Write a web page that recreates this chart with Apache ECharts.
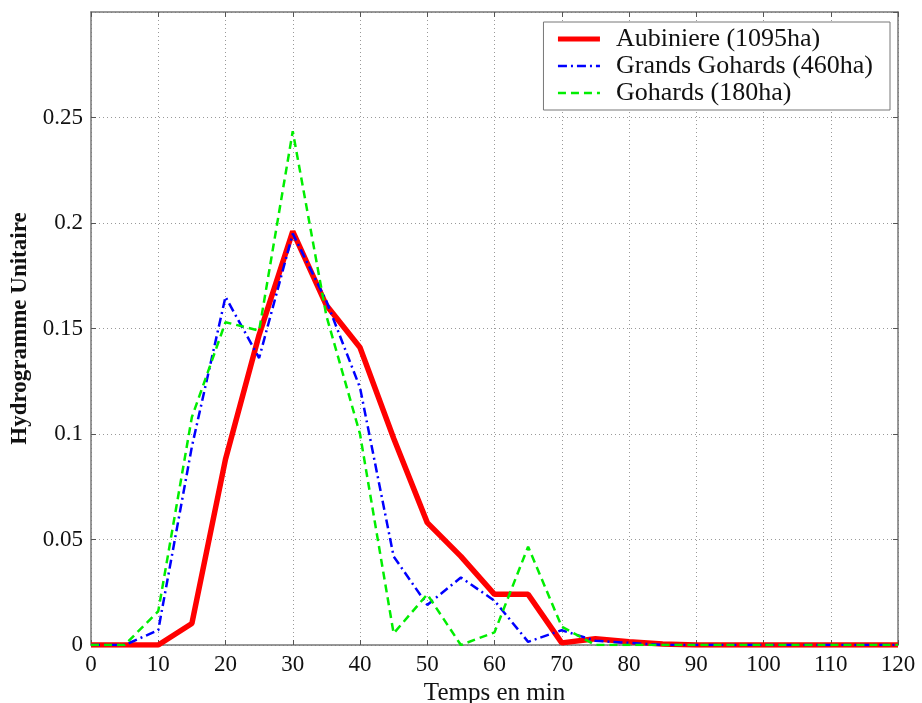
<!DOCTYPE html>
<html>
<head>
<meta charset="utf-8">
<script src="https://cdn.jsdelivr.net/npm/echarts@6/dist/echarts.min.js"></script>
<style>html,body{margin:0;padding:0;background:#fff}#c{width:922px;height:703px}</style>
</head>
<body>
<div id="c"></div>
<script>
const times = [0,5,10,15,20,25,30,35,40,45,50,55,60,65,70,75,80,85,90,95,100,105,110,115,120];
const aubiniere = [0,0,0,0.0102,0.088,0.147,0.196,0.161,0.141,0.098,0.058,0.042,0.024,0.024,0.001,0.003,0.0015,0.0005,0,0,0,0,0,0,0];
const grandsGohards = [0,0,0.007,0.094,0.165,0.136,0.195,0.163,0.122,0.042,0.019,0.032,0.021,0.0015,0.007,0.002,0.001,0,0,0,0,0,0,0,0];
const gohards = [0,0,0.016,0.108,0.153,0.149,0.2435,0.156,0.100,0.0055,0.024,0,0.006,0.0466,0.0087,0,0,0,0,0,0,0,0,0,0];
const seriesNames = ['Aubiniere (1095ha)','Grands Gohards (460ha)','Gohards (180ha)'];
const xTicks = [0,10,20,30,40,50,60,70,80,90,100,110,120];
const yTicks = [0,0.05,0.1,0.15,0.2,0.25];

const pair = arr => times.map((t,i)=>[t,arr[i]]);
const font = '"Liberation Serif", "Times New Roman", serif';
const gridLine = {show:true, lineStyle:{color:'#999', type:[1,3], width:1}};
const axLine = {show:true, onZero:false, lineStyle:{color:'#777', width:1.5}};
const tick = {show:true, inside:true, length:5, lineStyle:{color:'#555'}};

const chart = echarts.init(document.getElementById('c'));
chart.setOption({
  backgroundColor:'#fff',
  animation:false,
  textStyle:{fontFamily:font},
  grid:{left:91, right:24, top:12, bottom:58, outerBoundsMode:'none', containLabel:false},
  legend:{
    show:true, orient:'vertical', right:32, top:22,
    data:[
      {name:seriesNames[0], lineStyle:{width:5}},
      {name:seriesNames[1], lineStyle:{width:2.5}},
      {name:seriesNames[2], lineStyle:{width:2.5}}
    ],
    backgroundColor:'#fff', borderColor:'#777', borderWidth:1,
    padding:[4,17,4,12], itemWidth:42, itemHeight:14, itemGap:1,
    itemStyle:{opacity:0},
    textStyle:{fontFamily:font, fontSize:26, lineHeight:26, color:'#111', padding:[0,0,0,11]}
  },
  xAxis:[{
    type:'value', min:0, max:120, interval:10,
    name:'Temps en min', nameLocation:'middle', nameGap:35,
    nameTextStyle:{fontFamily:font, fontSize:25, color:'#111'},
    axisLine:axLine, axisTick:tick, splitLine:gridLine,
    axisLabel:{fontFamily:font, fontSize:23, color:'#111', margin:8,
      formatter:v=>xTicks.indexOf(v)>=0?String(v):''}
  },{
    type:'value', position:'top', min:0, max:120, interval:10,
    axisLine:axLine, axisTick:tick, splitLine:{show:false}, axisLabel:{show:false}
  }],
  yAxis:[{
    type:'value', min:0, max:0.3, interval:0.05,
    name:'Hydrogramme Unitaire', nameLocation:'middle', nameGap:55, nameRotate:90,
    nameTextStyle:{fontFamily:font, fontSize:23, color:'#111', fontWeight:'bold'},
    axisLine:axLine, axisTick:tick, splitLine:gridLine,
    axisLabel:{fontFamily:font, fontSize:23, color:'#111', margin:8, showMaxLabel:false,
      formatter:v=>{const k=yTicks.findIndex(t=>Math.abs(t-v)<1e-9); return k>=0?String(yTicks[k]):'';}}
  },{
    type:'value', position:'right', min:0, max:0.3, interval:0.05,
    axisLine:axLine, axisTick:tick, splitLine:{show:false}, axisLabel:{show:false}
  }],
  series:[
    {name:seriesNames[0], type:'line', data:pair(aubiniere), symbol:'none', z:3,
     lineStyle:{color:'#ff0000', width:5.5}, itemStyle:{color:'#ff0000'}},
    {name:seriesNames[1], type:'line', data:pair(grandsGohards), symbol:'none', z:4,
     lineStyle:{color:'#0000ff', width:2.5, type:[9,4,2,4]}, itemStyle:{color:'#0000ff'}},
    {name:seriesNames[2], type:'line', data:pair(gohards), symbol:'none', z:5,
     lineStyle:{color:'#00ee00', width:2.5, type:[8,5]}, itemStyle:{color:'#00ee00'}}
  ]
});
</script>
</body>
</html>
